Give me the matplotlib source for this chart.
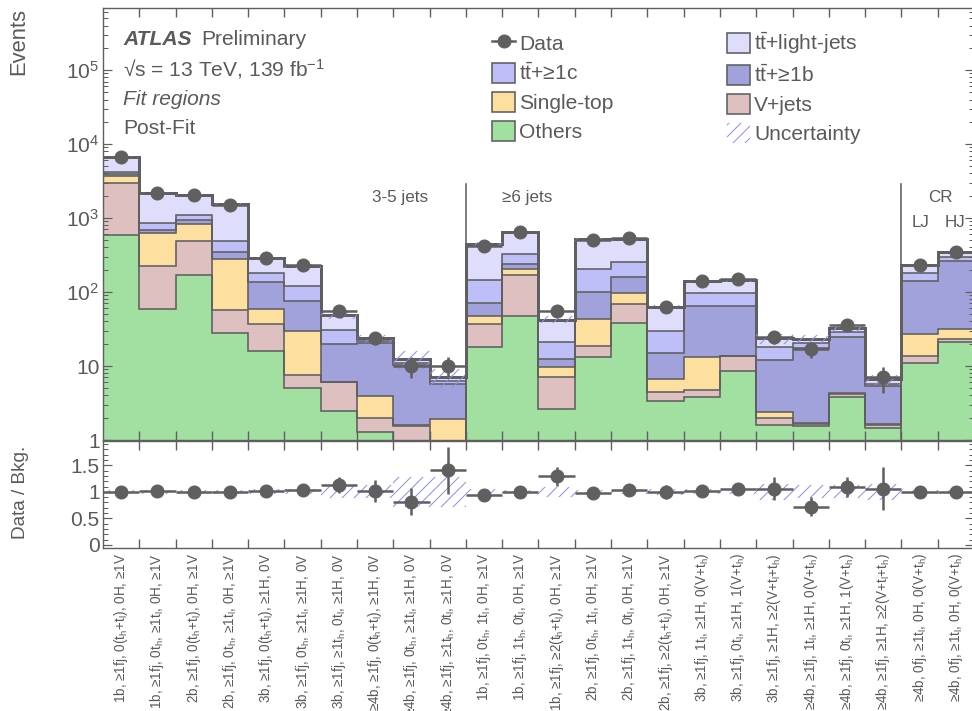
import numpy as np
import matplotlib
matplotlib.use("Agg")
import matplotlib.pyplot as plt
from matplotlib.patches import Patch
from matplotlib.lines import Line2D
from matplotlib.ticker import FixedLocator, NullFormatter, FuncFormatter

# ---------------- data ----------------
region_labels = [
    "1b, ≥1fj, 0(t$_h$+t$_l$), 0H, ≥1V",
    "1b, ≥1fj, 0t$_h$, ≥1t$_l$, 0H, ≥1V",
    "2b, ≥1fj, 0(t$_h$+t$_l$), 0H, ≥1V",
    "2b, ≥1fj, 0t$_h$, ≥1t$_l$, 0H, ≥1V",
    "3b, ≥1fj, 0(t$_h$+t$_l$), ≥1H, 0V",
    "3b, ≥1fj, 0t$_h$, ≥1t$_l$, ≥1H, 0V",
    "3b, ≥1fj, ≥1t$_h$, 0t$_l$, ≥1H, 0V",
    "≥4b, ≥1fj, 0(t$_h$+t$_l$), ≥1H, 0V",
    "≥4b, ≥1fj, 0t$_h$, ≥1t$_l$, ≥1H, 0V",
    "≥4b, ≥1fj, ≥1t$_h$, 0t$_l$, ≥1H, 0V",
    "1b, ≥1fj, 0t$_h$, 1t$_l$, 0H, ≥1V",
    "1b, ≥1fj, 1t$_h$, 0t$_l$, 0H, ≥1V",
    "1b, ≥1fj, ≥2(t$_h$+t$_l$), 0H, ≥1V",
    "2b, ≥1fj, 0t$_h$, 1t$_l$, 0H, ≥1V",
    "2b, ≥1fj, 1t$_h$, 0t$_l$, 0H, ≥1V",
    "2b, ≥1fj, ≥2(t$_h$+t$_l$), 0H, ≥1V",
    "3b, ≥1fj, 1t$_l$, ≥1H, 0(V+t$_h$)",
    "3b, ≥1fj, 0t$_l$, ≥1H, 1(V+t$_h$)",
    "3b, ≥1fj, ≥1H, ≥2(V+t$_l$+t$_h$)",
    "≥4b, ≥1fj, 1t$_l$, ≥1H, 0(V+t$_h$)",
    "≥4b, ≥1fj, 0t$_l$, ≥1H, 1(V+t$_h$)",
    "≥4b, ≥1fj, ≥1H, ≥2(V+t$_l$+t$_h$)",
    "≥4b, 0fj, ≥1t$_l$, 0H, 0(V+t$_h$)",
    "≥4b, 0fj, ≥1t$_l$, 0H, 0(V+t$_h$)",
]

others = [590, 59, 169, 28, 16, 5.0, 2.5, 1.3, 0.4, 0.3, 18.2, 47, 2.6, 13.4, 37.8, 3.4,
          3.8, 8.6, 1.6, 1.55, 3.85, 1.44, 10.9, 21.3]
vjets = [2350, 168, 315, 30, 21, 2.6, 3.6, 0.7, 1.16, 0.3, 18.8, 123, 4.6, 5.2, 30.2, 1.0,
         0.9, 5.0, 0.4, 0.08, 0.35, 0.16, 2.7, 1.7]
singletop = [760, 394, 337, 219, 22, 22.4, 0.05, 1.9, 0.02, 1.3, 10, 32, 2.4, 24.1, 28, 2.2,
             8.7, 0.2, 0.4, 0.08, 0.1, 0.05, 13.4, 9]
tt_b = [200, 68, 119, 73, 76, 46, 13.9, 16.4, 8.7, 3.8, 23, 37, 2.8, 58.3, 62, 8.2,
        51.6, 51.2, 9.6, 15.6, 20.1, 3.65, 115, 233]
tt_c = [250, 159, 170, 144, 44, 44, 10.6, 1.7, 0.6, 0.6, 75, 84, 8.9, 101, 94, 14.9,
        31, 33, 6.2, 3.3, 4.6, 0.4, 40, 35]
tt_light = [2590, 1307, 937, 1036, 106, 105, 18.4, 1.6, 1.4, 0.8, 300, 330, 21.2, 313, 263, 33.3,
            44, 47, 5.4, 2.9, 4.0, 0.9, 48, 50]
data = [6700, 2170, 2050, 1520, 288, 232, 55, 24, 10, 10, 415, 655, 55, 505, 535, 63,
        142, 152, 25, 17, 36, 7, 230, 352]
rel_unc = [0.03, 0.04, 0.04, 0.04, 0.05, 0.05, 0.12, 0.12, 0.28, 0.28, 0.05, 0.03, 0.10, 0.04,
           0.04, 0.06, 0.05, 0.05, 0.15, 0.12, 0.12, 0.15, 0.03, 0.03]

legend_names = ["Others", "V+jets", "Single-top", "t$\\bar{t}$+≥1b", "t$\\bar{t}$+≥1c",
                "t$\\bar{t}$+light-jets"]
colors = ["#a2e0a2", "#dfc0c0", "#fddf9f", "#a1a1dc", "#bebef9", "#dedefc"]

# ---------------- style ----------------
plt.rcParams['font.family'] = ['Liberation Sans', 'DejaVu Sans']
plt.rcParams['mathtext.fontset'] = 'custom'
plt.rcParams['mathtext.rm'] = 'Liberation Sans'
plt.rcParams['mathtext.it'] = 'Liberation Sans:italic'
plt.rcParams['mathtext.bf'] = 'Liberation Sans:bold'
plt.rcParams['mathtext.default'] = 'regular'
plt.rcParams['hatch.linewidth'] = 1.0
TXT = "#5a5a5a"
EDGE = "#5f5f5f"
HATCH = "#8c8cff"

DPI = 72
fig = plt.figure(figsize=(972 / DPI, 711 / DPI), dpi=DPI)
W, H = 972.0, 711.0
L, R = 103.0, 974.0
ax = fig.add_axes([L / W, 1 - 440 / H, (R - L) / W, (440 - 8) / H])
rax = fig.add_axes([L / W, 1 - 548 / H, (R - L) / W, (548 - 441) / H])

n = len(data)
edges = np.arange(n + 1)
centers = edges[:-1] + 0.5
comps = [np.array(c, float) for c in [others, vjets, singletop, tt_b, tt_c, tt_light]]
cum = np.cumsum(np.vstack(comps), axis=0)
total = cum[-1]
data = np.array(data, float)
rel_unc = np.array(rel_unc, float)

bottom = np.full(n, 1e-3)
for i in range(6):
    ax.stairs(cum[i], edges, baseline=bottom, fill=True, facecolor=colors[i], edgecolor='none',
              linewidth=0)
    bottom = cum[i]
for i in range(5):
    ax.stairs(cum[i], edges, baseline=None, color=EDGE, linewidth=1.6)
ax.stairs(total, edges, baseline=None, color=EDGE, linewidth=3.0)
ax.stairs(total * (1 + rel_unc), edges, baseline=total * (1 - rel_unc), fill=True,
          facecolor='none', edgecolor=HATCH, hatch='//', linewidth=0)

derr = np.sqrt(data)
lo = np.minimum(derr, data - 1e-3)
ax.errorbar(centers, data, xerr=0.5, yerr=[lo, derr], fmt='o', color=EDGE, ms=13,
            elinewidth=2.5, capsize=0, zorder=5)

ax.set_yscale('log')
ax.set_xlim(0, n)
ax.set_ylim(1, 6.9e5)
ax.yaxis.set_major_locator(FixedLocator([1, 10, 1e2, 1e3, 1e4, 1e5]))
minor = [m * 10 ** e for e in range(0, 6) for m in range(2, 10)]
ax.yaxis.set_minor_locator(FixedLocator(minor))


def yfmt(v, pos):
    e = int(round(np.log10(v)))
    if e == 0:
        return "1"
    if e == 1:
        return "10"
    return "$10^{%d}$" % e


ax.yaxis.set_major_formatter(FuncFormatter(yfmt))
ax.yaxis.set_minor_formatter(NullFormatter())

for a in (ax, rax):
    a.set_xlim(0, n)
    a.xaxis.set_major_locator(FixedLocator(edges[1:-1]))
    a.xaxis.set_minor_locator(FixedLocator(centers))
    a.tick_params(axis='both', which='both', direction='in', top=True, right=True,
                  colors=EDGE, labelcolor=TXT, labelsize=21)
    a.tick_params(axis='y', which='major', length=9, width=1.2)
    a.tick_params(axis='y', which='minor', length=5, width=1.0)
    a.tick_params(axis='x', which='major', length=9, width=1.4)
    a.tick_params(axis='x', which='minor', length=0)
    for s in a.spines.values():
        s.set_color(EDGE)
        s.set_linewidth(1.4)
ax.xaxis.set_major_formatter(NullFormatter())
ax.xaxis.set_minor_formatter(NullFormatter())
rax.xaxis.set_major_formatter(NullFormatter())
rax.set_xticks(centers, region_labels, minor=True, rotation=90, fontsize=13.5)
rax.tick_params(axis='x', which='minor', pad=5)

ax.set_ylabel("Events", fontsize=22, color=TXT, loc='top')
ax.yaxis.set_label_coords(-0.085, 1.0)

# ratio
ratio = data / total
rerr = derr / total
rax.stairs(1 + rel_unc, edges, baseline=1 - rel_unc, fill=True, facecolor='none',
           edgecolor=HATCH, hatch='//', linewidth=0)
rax.errorbar(centers, ratio, xerr=0.5, yerr=rerr, fmt='o', color=EDGE, ms=13,
             elinewidth=2.5, capsize=0, zorder=5)
rax.set_ylim(-0.06, 1.96)
rax.yaxis.set_major_locator(FixedLocator([0, 0.5, 1, 1.5]))
rax.yaxis.set_minor_locator(FixedLocator(np.arange(0.1, 1.95, 0.1)))
rax.yaxis.set_major_formatter(FuncFormatter(lambda v, p: "%g" % v))
rax.set_ylabel("Data / Bkg.", fontsize=19, color=TXT)
rax.yaxis.set_label_coords(-0.085, 0.52)

# texts
tr = ax.transAxes
ax.text(0.023, 0.926, "ATLAS", transform=tr, fontsize=21, color=TXT, fontweight='bold',
        fontstyle='italic', va='center')
ax.text(0.113, 0.926, "Preliminary", transform=tr, fontsize=21, color=TXT, va='center')
ax.text(0.023, 0.859, "√s = 13 TeV, 139 fb$^{-1}$", transform=tr, fontsize=21,
        color=TXT, va='center')
ax.text(0.023, 0.789, "Fit regions", transform=tr, fontsize=21, color=TXT, va='center',
        fontstyle='italic')
ax.text(0.023, 0.72, "Post-Fit", transform=tr, fontsize=21, color=TXT, va='center')

ytxt = 10 ** ((440 - 197) / 74.0)
ax.text(8.18, ytxt, "3-5 jets", fontsize=17, color=TXT, ha='center', va='center')
ax.text(11.68, ytxt, "≥6 jets", fontsize=17, color=TXT, ha='center', va='center')
ax.text(23.06, ytxt, "CR", fontsize=17, color=TXT, ha='center', va='center')
yl = 10 ** ((440 - 222) / 74.0)
ax.text(22.54, yl, "LJ", fontsize=17, color=TXT, ha='center', va='center')
ax.text(23.48, yl, "HJ", fontsize=17, color=TXT, ha='center', va='center')
ytop = 10 ** ((440 - 184) / 74.0)
ax.plot([10, 10], [1, ytop], color=EDGE, lw=1.6)
ax.plot([22, 22], [1, ytop], color=EDGE, lw=1.6)

# legend
h_data = Line2D([], [], marker='o', color=EDGE, ms=13, lw=2.5)
patches = [Patch(facecolor=colors[i], edgecolor=EDGE, linewidth=1.6, label=legend_names[i])
           for i in range(6)]
h_unc = Patch(facecolor='none', edgecolor=HATCH, hatch='//', linewidth=0)
handles = [h_data, patches[4], patches[2], patches[0], patches[5], patches[3], patches[1], h_unc]
labels = ["Data", legend_names[4], legend_names[2], legend_names[0], legend_names[5],
          legend_names[3], legend_names[1], "Uncertainty"]
leg = ax.legend(handles, labels, ncol=2, loc='upper left', bbox_to_anchor=(492 / W, 1 - 30 / H),
                bbox_transform=fig.transFigure, frameon=False, fontsize=21, handlelength=1.1,
                handleheight=1.1, handletextpad=0.2, labelspacing=0.38, columnspacing=5.4,
                borderpad=0, borderaxespad=0)
for t in leg.get_texts():
    t.set_color(TXT)

fig.savefig("out.png", dpi=DPI)
